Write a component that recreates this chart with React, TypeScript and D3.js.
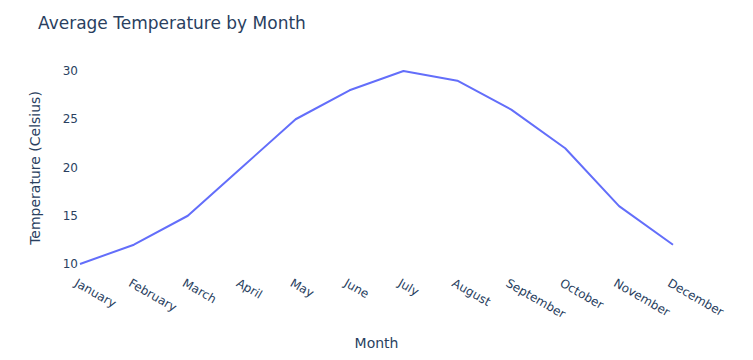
import { useEffect, useRef } from 'react'
import * as d3 from 'd3'

const months = ['January', 'February', 'March', 'April', 'May', 'June', 'July', 'August', 'September', 'October', 'November', 'December']
const temps = [10, 12, 15, 20, 25, 28, 30, 29, 26, 22, 16, 12]
const yTicks = [10, 15, 20, 25, 30]

const W = 753
const H = 360
const FONT = '"DejaVu Sans", Verdana, sans-serif'
const INK = '#2a3f5f'

export default function App() {
  const ref = useRef<SVGSVGElement>(null)

  useEffect(() => {
    if (!ref.current) return
    const svg = d3.select(ref.current)
    svg.selectAll('*').remove()

    const x = d3.scalePoint<string>().domain(months).range([80, 673])
    const y = d3.scaleLinear().domain([10, 30]).range([264, 71])

    svg.append('rect').attr('width', W).attr('height', H).attr('fill', '#fff')

    svg.append('text')
      .attr('x', 38).attr('y', 29)
      .attr('font-family', FONT).attr('font-size', 17).attr('fill', INK)
      .text('Average Temperature by Month')

    svg.append('g')
      .selectAll('text')
      .data(yTicks)
      .join('text')
      .attr('x', 78).attr('y', d => y(d)).attr('dy', '0.35em')
      .attr('text-anchor', 'end')
      .attr('font-family', FONT).attr('font-size', 12).attr('fill', INK)
      .text(d => d)

    svg.append('g')
      .selectAll('text')
      .data(months)
      .join('text')
      .attr('transform', d => `translate(${x(d)! - 2},${278}) rotate(30)`)
      .attr('dy', '0.71em')
      .attr('text-anchor', 'start')
      .attr('font-family', FONT).attr('font-size', 12).attr('fill', INK)
      .text(d => d)

    svg.append('text')
      .attr('x', 376.5).attr('y', 348)
      .attr('text-anchor', 'middle')
      .attr('font-family', FONT).attr('font-size', 14).attr('fill', INK)
      .text('Month')

    svg.append('text')
      .attr('transform', `translate(35,168) rotate(-90)`)
      .attr('dy', '0.35em')
      .attr('text-anchor', 'middle')
      .attr('font-family', FONT).attr('font-size', 14).attr('fill', INK)
      .text('Temperature (Celsius)')

    const line = d3.line<number>()
      .x((_, i) => x(months[i])!)
      .y(d => y(d))

    svg.append('path')
      .datum(temps)
      .attr('fill', 'none')
      .attr('stroke', '#636efa')
      .attr('stroke-width', 2)
      .attr('stroke-linejoin', 'round')
      .attr('d', line)
  }, [])

  return (
    <svg ref={ref} width={W} height={H}
      style={{ position: 'absolute', left: 0, top: 0, display: 'block' }} />
  )
}
